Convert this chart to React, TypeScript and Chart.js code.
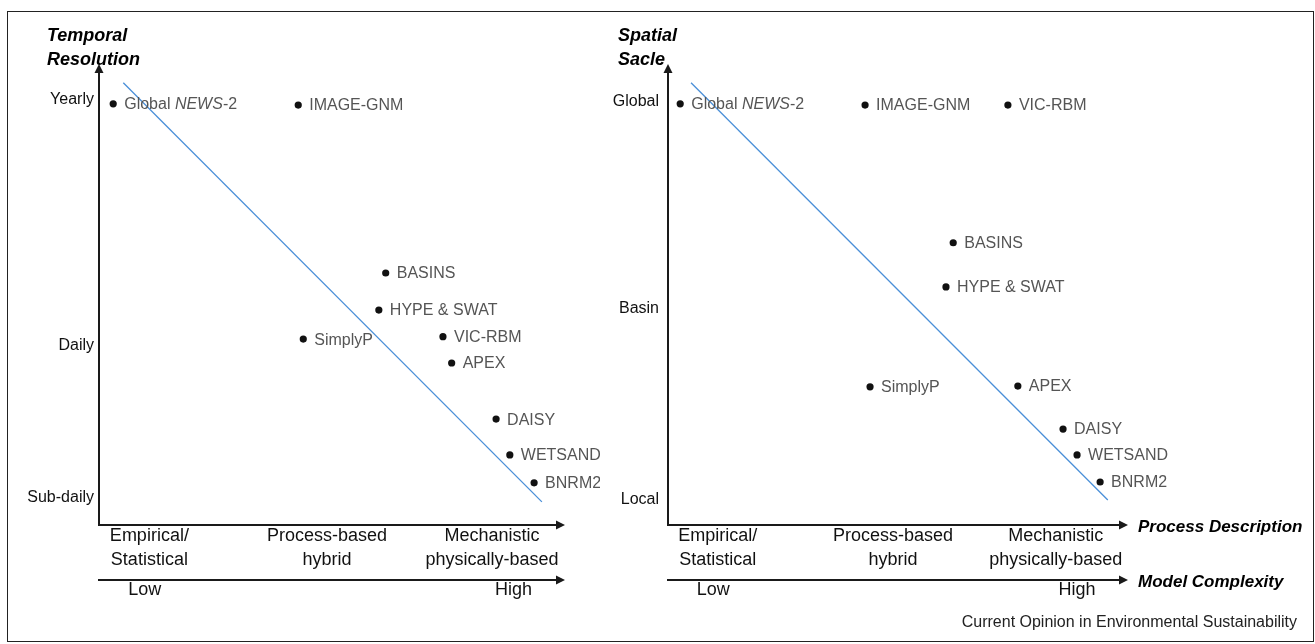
import React, { useEffect, useRef } from "react";
import { Chart, registerables } from "chart.js";

Chart.register(...registerables);

const FONT = "'Liberation Sans', Arial, Helvetica, sans-serif";
const AXIS_COLOR = "#1a1a1a";
const TREND_COLOR = "#4a8fd8";
const LABEL_COLOR = "#555555";
const ITALIC_WORDS = ["NEWS"];

// ---------- Left panel: Temporal Resolution ----------
const temporalModels = ["Global NEWS-2", "IMAGE-GNM", "BASINS", "HYPE & SWAT", "SimplyP", "VIC-RBM", "APEX", "DAISY", "WETSAND", "BNRM2"];
const temporalX = [0.31, 4.35, 6.26, 6.11, 4.46, 7.51, 7.7, 8.67, 8.97, 9.5];
const temporalY = [9.9, 9.87, 5.65, 4.72, 3.99, 4.05, 3.39, 1.98, 1.08, 0.38];
const temporalTrendX = [0.53, 9.67];
const temporalTrendY = [10.43, -0.1];
const temporalTickValues = [0, 3.82, 10];
const temporalTickLabels = ["Sub-daily", "Daily", "Yearly"];
const temporalTitle = ["Temporal", "Resolution"];

// ---------- Right panel: Spatial Scale ----------
const spatialModels = ["Global NEWS-2", "IMAGE-GNM", "VIC-RBM", "BASINS", "HYPE & SWAT", "SimplyP", "APEX", "DAISY", "WETSAND", "BNRM2"];
const spatialX = [0.27, 4.36, 7.52, 6.31, 6.15, 4.47, 7.74, 8.74, 9.05, 9.56];
const spatialY = [9.95, 9.92, 9.92, 6.46, 5.35, 2.84, 2.86, 1.78, 1.13, 0.45];
const spatialTrendX = [0.51, 9.73];
const spatialTrendY = [10.48, 0];
const spatialTickValues = [0, 4.8, 10];
const spatialTickLabels = ["Local", "Basin", "Global"];
const spatialTitle = ["Spatial", "Sacle"];

// ---------- Shared x axes ----------
const processTickValues = [1.1, 4.98, 8.58];
const processTickLabels = [["Empirical/", "Statistical"], ["Process-based", "hybrid"], ["Mechanistic", "physically-based"]];
const complexityTickValues = [1.0, 9.05];
const complexityTickLabels = ["Low", "High"];
const processAxisName = "Process Description";
const complexityAxisName = "Model Complexity";
const footnote = "Current Opinion in Environmental Sustainability";

type Panel = {
  names: string[];
  xs: number[];
  ys: number[];
  trendX: number[];
  trendY: number[];
  yTickValues: number[];
  yTickLabels: string[];
  yMin: number;
  yMax: number;
  title: string[];
  titleX: number;
  yAxisWidth: number;
  yTickPad: number;
  padRight: number;
  showAxisNames: boolean;
  showFootnote: boolean;
  canvasWidth: number;
};

function richParts(name: string) {
  const parts: { t: string; i: boolean }[] = [];
  let rest = name;
  while (rest.length) {
    let idx = -1;
    let word = "";
    for (const w of ITALIC_WORDS) {
      const k = rest.indexOf(w);
      if (k >= 0 && (idx < 0 || k < idx)) {
        idx = k;
        word = w;
      }
    }
    if (idx < 0) {
      parts.push({ t: rest, i: false });
      break;
    }
    if (idx > 0) parts.push({ t: rest.slice(0, idx), i: false });
    parts.push({ t: word, i: true });
    rest = rest.slice(idx + word.length);
  }
  return parts;
}

function tri(ctx: CanvasRenderingContext2D, pts: number[]) {
  ctx.beginPath();
  ctx.moveTo(pts[0], pts[1]);
  ctx.lineTo(pts[2], pts[3]);
  ctx.lineTo(pts[4], pts[5]);
  ctx.closePath();
  ctx.fill();
}

function makePlugins(p: Panel) {
  const labels = {
    id: "pointLabels",
    afterDatasetsDraw(chart: any) {
      const ctx: CanvasRenderingContext2D = chart.ctx;
      const meta = chart.getDatasetMeta(0);
      ctx.save();
      ctx.fillStyle = LABEL_COLOR;
      ctx.textBaseline = "middle";
      ctx.textAlign = "left";
      meta.data.forEach((el: any, i: number) => {
        let x = el.x + 11;
        const y = el.y + 1;
        for (const part of richParts(p.names[i])) {
          ctx.font = `${part.i ? "italic " : ""}16px ${FONT}`;
          ctx.fillText(part.t, x, y);
          x += ctx.measureText(part.t).width;
        }
      });
      ctx.restore();
    },
  };
  const decor = {
    id: "decor",
    afterDraw(chart: any) {
      const ctx: CanvasRenderingContext2D = chart.ctx;
      const { left, right, top } = chart.chartArea;
      ctx.save();
      ctx.fillStyle = AXIS_COLOR;
      tri(ctx, [left, top - 8, left - 4.5, top + 1, left + 4.5, top + 1]);
      for (const id of ["x", "x2"]) {
        const yy = chart.scales[id].top;
        tri(ctx, [right + 8, yy, right - 1, yy - 4.5, right - 1, yy + 4.5]);
      }
      ctx.fillStyle = "#000";
      ctx.textAlign = "left";
      ctx.textBaseline = "middle";
      ctx.font = `italic bold 18px ${FONT}`;
      p.title.forEach((t, i) => ctx.fillText(t, p.titleX, 36 + i * 24));
      if (p.showAxisNames) {
        ctx.font = `italic bold 17px ${FONT}`;
        ctx.fillText(processAxisName, right + 18, chart.scales.x.top + 2);
        ctx.fillText(complexityAxisName, right + 18, chart.scales.x2.top + 2);
      }
      if (p.showFootnote) {
        ctx.font = `16px ${FONT}`;
        ctx.fillStyle = "#222";
        ctx.textAlign = "right";
        ctx.fillText(footnote, p.canvasWidth - 18, 623);
      }
      ctx.restore();
    },
  };
  return [labels, decor];
}

function makeConfig(p: Panel): any {
  const border = { display: true, color: AXIS_COLOR, width: 2 };
  const grid = { display: false, drawTicks: false };
  return {
    type: "scatter",
    data: {
      datasets: [
        {
          type: "scatter",
          data: p.xs.map((x, i) => ({ x, y: p.ys[i] })),
          pointRadius: 3.6,
          pointBackgroundColor: "#111",
          pointBorderWidth: 0,
          xAxisID: "x",
          yAxisID: "y",
          order: 0,
        },
        {
          type: "line",
          data: p.trendX.map((x, i) => ({ x, y: p.trendY[i] })),
          borderColor: TREND_COLOR,
          borderWidth: 1.3,
          pointRadius: 0,
          fill: false,
          xAxisID: "x",
          yAxisID: "y",
          order: 1,
        },
      ],
    },
    options: {
      responsive: false,
      animation: false,
      events: [],
      layout: { padding: { left: 0, top: 72, right: p.padRight, bottom: 0 } },
      plugins: { legend: { display: false }, tooltip: { enabled: false } },
      scales: {
        x: {
          type: "linear",
          position: "bottom",
          weight: 0,
          min: 0,
          max: 10,
          grid,
          border,
          afterBuildTicks: (s: any) => {
            s.ticks = processTickValues.map((v) => ({ value: v }));
          },
          afterFit: (s: any) => {
            s.height = 55;
          },
          ticks: {
            autoSkip: false,
            maxRotation: 0,
            padding: 0,
            color: "#111",
            font: { family: FONT, size: 18, lineHeight: 1.28 },
            callback: (_v: any, i: number) => processTickLabels[i],
          },
        },
        x2: {
          type: "linear",
          position: "bottom",
          weight: 1,
          min: 0,
          max: 10,
          grid,
          border,
          afterBuildTicks: (s: any) => {
            s.ticks = complexityTickValues.map((v) => ({ value: v }));
          },
          afterFit: (s: any) => {
            s.height = 64;
          },
          ticks: {
            autoSkip: false,
            maxRotation: 0,
            padding: 0,
            color: "#111",
            font: { family: FONT, size: 18, lineHeight: 1.15 },
            callback: (_v: any, i: number) => complexityTickLabels[i],
          },
        },
        y: {
          type: "linear",
          position: "left",
          min: p.yMin,
          max: p.yMax,
          grid,
          border,
          afterBuildTicks: (s: any) => {
            s.ticks = p.yTickValues.map((v) => ({ value: v }));
          },
          afterFit: (s: any) => {
            s.width = p.yAxisWidth;
          },
          ticks: {
            autoSkip: false,
            padding: p.yTickPad,
            color: "#111",
            font: { family: FONT, size: 16 },
            callback: (_v: any, i: number) => p.yTickLabels[i],
          },
        },
      },
    },
    plugins: makePlugins(p),
  };
}

const leftPanel: Panel = {
  names: temporalModels,
  xs: temporalX,
  ys: temporalY,
  trendX: temporalTrendX,
  trendY: temporalTrendY,
  yTickValues: temporalTickValues,
  yTickLabels: temporalTickLabels,
  yMin: -0.68,
  yMax: 10.7,
  title: temporalTitle,
  titleX: 47,
  yAxisWidth: 99,
  yTickPad: 5,
  padRight: 43,
  showAxisNames: false,
  showFootnote: false,
  canvasWidth: 600,
};

const rightPanel: Panel = {
  names: spatialModels,
  xs: spatialX,
  ys: spatialY,
  trendX: spatialTrendX,
  trendY: spatialTrendY,
  yTickValues: spatialTickValues,
  yTickLabels: spatialTickLabels,
  yMin: -0.63,
  yMax: 10.75,
  title: spatialTitle,
  titleX: 18,
  yAxisWidth: 68,
  yTickPad: 9,
  padRight: 195,
  showAxisNames: true,
  showFootnote: true,
  canvasWidth: 715,
};

export default function App() {
  const leftRef = useRef<HTMLCanvasElement | null>(null);
  const rightRef = useRef<HTMLCanvasElement | null>(null);

  useEffect(() => {
    const c1 = new Chart(leftRef.current as HTMLCanvasElement, makeConfig(leftPanel));
    const c2 = new Chart(rightRef.current as HTMLCanvasElement, makeConfig(rightPanel));
    return () => {
      c1.destroy();
      c2.destroy();
    };
  }, []);

  return (
    <div style={{ position: "absolute", left: 0, top: 0, width: 1315, height: 644, background: "#fff", overflow: "hidden" }}>
      <div
        style={{
          position: "absolute",
          left: 7,
          top: 11,
          width: 1307,
          height: 631,
          border: "1px solid #222",
          boxSizing: "border-box",
        }}
      />
      <canvas ref={leftRef} width={600} height={644} style={{ position: "absolute", left: 0, top: 0 }} />
      <canvas ref={rightRef} width={715} height={644} style={{ position: "absolute", left: 600, top: 0 }} />
    </div>
  );
}
